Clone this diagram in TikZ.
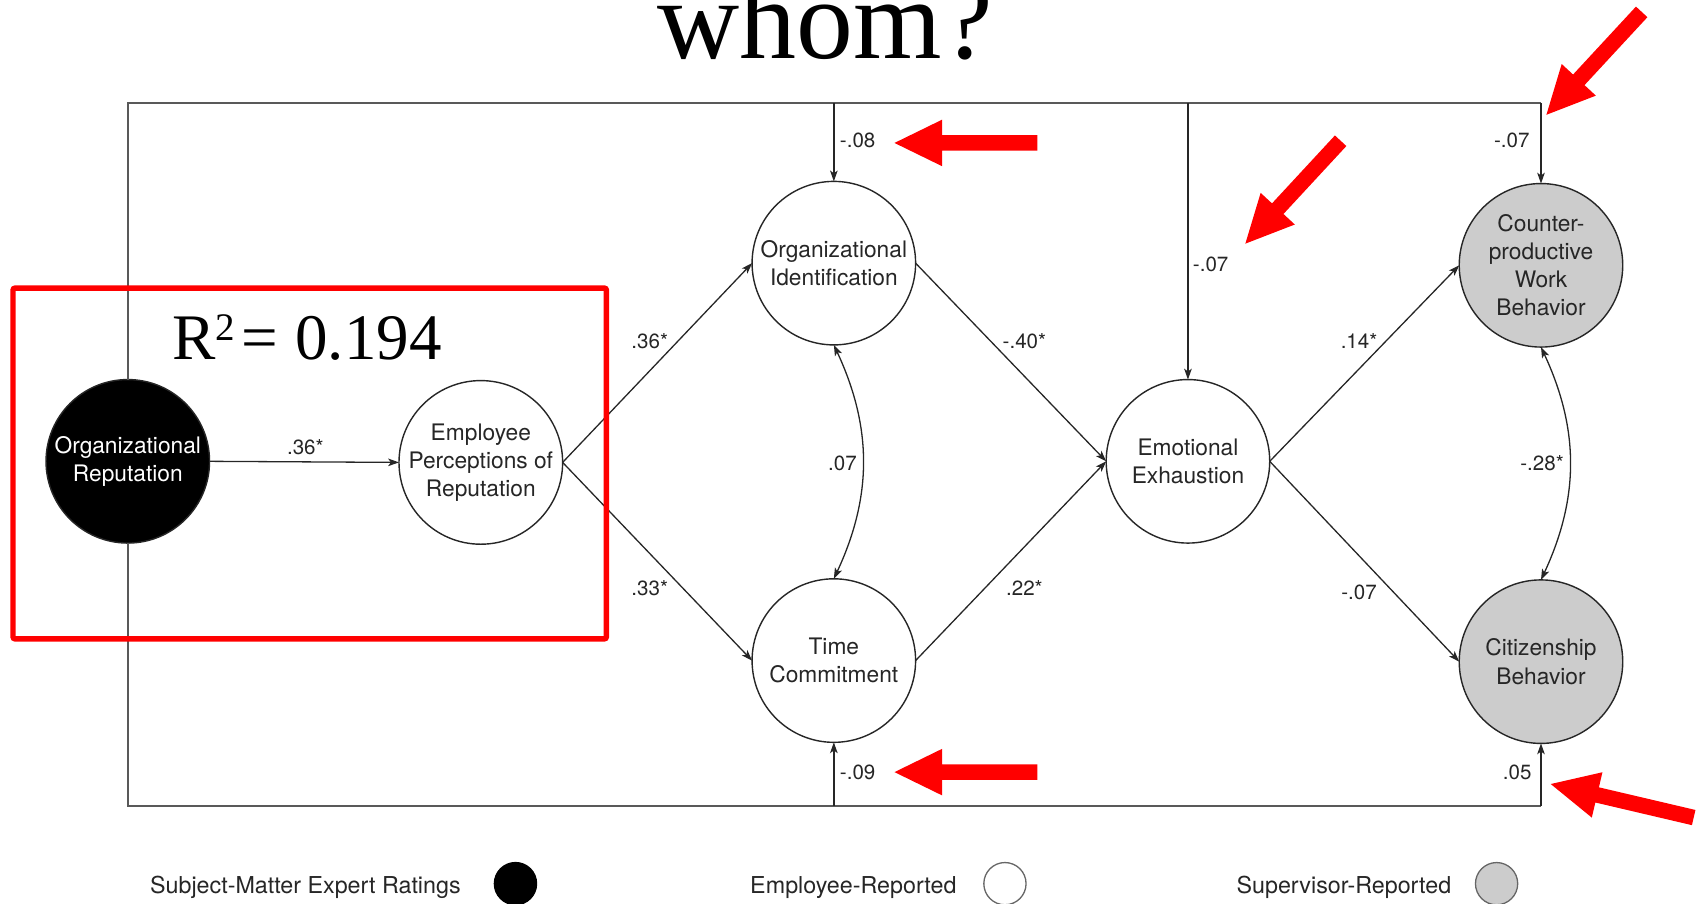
\documentclass[tikz,border=0pt]{standalone}
\usepackage{fontspec}
\setmainfont{TeX Gyre Heros}
\newfontfamily\timesfont{Liberation Serif}
\usetikzlibrary{arrows.meta}
\newcommand{\redarrow}[3]{\fill[red, shift={#1}, rotate=#2] (0,0) -- (44,21.5) -- (44,7.2) -- (#3,7.2) -- (#3,-7.2) -- (44,-7.2) -- (44,-21.5) -- cycle;}
\begin{document}
\begin{tikzpicture}[x=1pt,y=-1pt,
  every node/.style={inner sep=0pt, outer sep=0pt},
  var/.style={circle, draw=black!85, line width=1.3pt, minimum size=151pt, align=center, text=black!85, font=\fontsize{21}{26}\selectfont},
  blackvar/.style={var, fill=black, text=white},
  grayvar/.style={var, fill=black!20},
  pathedge/.style={draw=black!85, line width=1.2pt, -{Stealth[length=10pt,width=7pt,inset=2.5pt]}},
  biedge/.style={draw=black!85, line width=1.2pt, {Stealth[length=10pt,width=7pt,inset=2.5pt]}-{Stealth[length=10pt,width=7pt,inset=2.5pt]}},
  frameline/.style={draw=black!65, line width=1.5pt},
  coef/.style={text=black!85, font=\fontsize{19}{19}\selectfont},
  legtext/.style={text=black!85, font=\fontsize{21.5}{21.5}\selectfont, anchor=base},
  legdot/.style={circle, draw=black!60, line width=1.2pt, minimum size=39pt}
]
\useasboundingbox (0,0) rectangle (1568,834);

% title
\node[anchor=base, font=\timesfont\fontsize{105}{105}\selectfont] (title) at (762,54) {whom?};

% variables
\node[blackvar] (orep) at (118,426) {Organizational\\Reputation};
\node[var] (epr) at (444,427) {Employee\\Perceptions of\\Reputation};
\node[var] (oi) at (770,243) {Organizational\\Identification};
\node[var] (tc) at (770,610) {Time\\Commitment};
\node[var] (ee) at (1097,426) {Emotional\\Exhaustion};
\node[grayvar] (cwb) at (1423,245) {Counter-\\productive\\Work\\Behavior};
\node[grayvar] (cb) at (1423,611) {Citizenship\\Behavior};

% frame coordinates
\coordinate (tl) at (118,95);
\coordinate (tm1) at (770,95);
\coordinate (tm2) at (1097,95);
\coordinate (tr) at (1423,95);
\coordinate (bl) at (118,744);
\coordinate (bm) at (770,744);
\coordinate (br) at (1423,744);

\draw[frameline] (orep.north) -- (tl) -- (tr);
\draw[frameline] (orep.south) -- (bl) -- (br);
\draw[pathedge] (tm1) -- (oi.north);
\draw[pathedge] (tm2) -- (ee.north);
\draw[pathedge] (tr) -- (cwb.north);
\draw[pathedge] (bm) -- (tc.south);
\draw[pathedge] (br) -- (cb.south);

% paths
\draw[pathedge] (orep.east) -- (epr.west);
\draw[pathedge] (epr.east) -- (oi.west);
\draw[pathedge] (epr.east) -- (tc.west);
\draw[pathedge] (oi.east) -- (ee.west);
\draw[pathedge] (tc.east) -- (ee.west);
\draw[pathedge] (ee.east) -- (cwb.west);
\draw[pathedge] (ee.east) -- (cb.west);
\draw[biedge] (oi.south) to[bend left=25] (tc.north);
\draw[biedge] (cwb.south) to[bend left=25] (cb.north);

% coefficients
\node[coef] (c1) at (282,413) {.36*};
\node[coef] (c2) at (600,315) {.36*};
\node[coef] (c3) at (600,543) {.33*};
\node[coef] (c4) at (778,428) {.07};
\node[coef] (c5) at (946,315) {-.40*};
\node[coef] (c6) at (946,543) {.22*};
\node[coef] (c7) at (1118,244) {-.07};
\node[coef] (c8) at (1255,315) {.14*};
\node[coef] (c9) at (1255,547) {-.07};
\node[coef] (c10) at (1424,428) {-.28*};
\node[coef] (c11) at (792,130) {-.08};
\node[coef] (c12) at (1396,130) {-.07};
\node[coef] (c13) at (792,713) {-.09};
\node[coef] (c14) at (1401,713) {.05};

% legend
\node[legtext] (l1) at (282,825) {Subject-Matter Expert Ratings};
\node[legdot, fill=black, draw=black] (d1) at (476,816) {};
\node[legtext] (l2) at (788,825) {Employee-Reported};
\node[legdot, fill=white] (d2) at (928,816) {};
\node[legtext] (l3) at (1241,825) {Supervisor-Reported};
\node[legdot, fill=black!20] (d3) at (1382,816) {};

% red annotations
\draw[red, line width=5pt, rounded corners=2pt] (12,266) rectangle (560,590);
\node[anchor=base west, font=\timesfont\fontsize{60}{60}\selectfont] (rsq) at (159,332) {R\raisebox{18pt}{\fontsize{36}{36}\selectfont 2}\hspace{6pt}=\hspace{16pt}0.194};
\redarrow{(826,132)}{0}{132}
\redarrow{(826,713)}{0}{132}
\redarrow{(1150,225)}{47.2}{129.5}
\redarrow{(1428,106)}{47.2}{129.5}
\redarrow{(1432,724)}{-13.2}{135.6}
\end{tikzpicture}
\end{document}
